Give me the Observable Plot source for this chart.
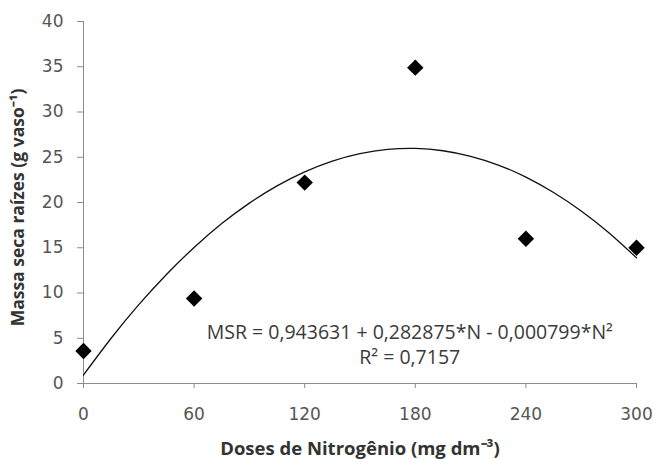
<!DOCTYPE html>
<html>
<head>
<meta charset="utf-8">
<script src="https://cdn.jsdelivr.net/npm/d3@7"></script>
<script src="https://cdn.jsdelivr.net/npm/@observablehq/plot@0.6"></script>
<style>
  html, body { margin: 0; padding: 0; background: #fff; }
</style>
</head>
<body>
<div id="chart"></div>
<script>
// Observed data (dose of N, root dry mass)
const doses = [0, 60, 120, 180, 240, 300];
const massa = [3.6, 9.4, 22.2, 34.9, 16.0, 15.0];

// Fitted curve
const curveN = [0, 15, 30, 45, 60, 75, 90, 105, 120, 135, 150, 165, 180, 195, 210, 225, 240, 255, 270, 285, 300];
const curveMSR = [0.94, 5.00, 8.71, 12.05, 15.03, 17.67, 19.93, 21.83, 23.38, 24.57, 25.39, 25.86, 25.97, 25.72, 25.10, 24.14, 22.81, 21.11, 19.07, 16.66, 13.89];

// Ticks
const xTicks = [0, 60, 120, 180, 240, 300];
const yTicks = [0, 5, 10, 15, 20, 25, 30, 35, 40];

// Texts
const xTitle = "Doses de Nitrogênio (mg dm⁻³)";
const yTitle = "Massa seca raízes (g vaso⁻¹)";
const eqText = "MSR = 0,943631 + 0,282875*N - 0,000799*N²";
const r2Text = "R² = 0,7157";

const points = doses.map((d, i) => ({dose: d, msr: massa[i]}));
const curve = curveN.map((n, i) => ({dose: n, msr: curveMSR[i]}));

const axisGray = "#8c8c8c";
const tickText = "#555555";

const chart = Plot.plot({
  width: 656,
  height: 459,
  marginTop: 21,
  marginBottom: 76,
  marginLeft: 83,
  marginRight: 20,
  style: {fontFamily: "DejaVu Sans", background: "#fff"},
  x: {domain: [0, 300]},
  y: {domain: [0, 40]},
  marks: [
    Plot.axisX({ticks: xTicks, tickSize: 5, tickPadding: 19, stroke: axisGray, fill: tickText, fontSize: 17, label: null}),
    Plot.axisY({ticks: yTicks, tickSize: 6, tickPadding: 14, stroke: axisGray, fill: tickText, fontSize: 17, label: null}),
    Plot.ruleY([0], {stroke: axisGray}),
    Plot.ruleX([0], {stroke: axisGray}),
    Plot.line(curve, {x: "dose", y: "msr", stroke: "#111", strokeWidth: 1.3, curve: "natural"}),
    Plot.dot(points, {x: "dose", y: "msr", symbol: "diamond2", r: 7.4, fill: "#000", stroke: "none"}),
    Plot.text([eqText], {x: 177, y: 5.6, fontFamily: "Open Sans", fontSize: 19.5, fill: "#3a3a3a", textAnchor: "middle", lineAnchor: "middle"}),
    Plot.text([r2Text], {x: 177, y: 2.85, fontFamily: "Open Sans", fontSize: 19.5, fill: "#3a3a3a", textAnchor: "middle", lineAnchor: "middle"}),
    Plot.text([xTitle], {frameAnchor: "bottom", dy: 66, textAnchor: "middle", lineAnchor: "middle", fontFamily: "Open Sans", fontWeight: "bold", fontSize: 18.5, fill: "#333"}),
    Plot.text([yTitle], {frameAnchor: "left", dx: -65, dy: 5, rotate: -90, textAnchor: "middle", lineAnchor: "middle", fontFamily: "Open Sans", fontWeight: "bold", fontSize: 17.5, fill: "#333"})
  ]
});
document.getElementById("chart").appendChild(chart);
</script>
</body>
</html>
